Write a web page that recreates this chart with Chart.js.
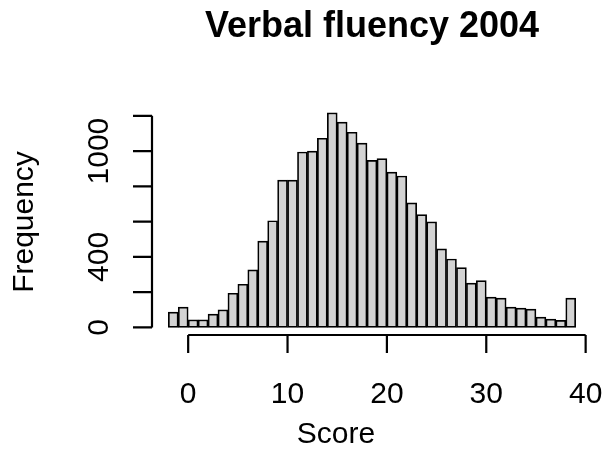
<!DOCTYPE html>
<html>
<head>
<meta charset="utf-8">
<script src="https://cdn.jsdelivr.net/npm/chart.js@4/dist/chart.umd.min.js"></script>
<style>
  html, body { margin: 0; padding: 0; background: #fff; }
  canvas { display: block; }
</style>
</head>
<body>
<canvas id="hist" width="606" height="450"></canvas>
<script>
// histogram bins (left edge of each 1-point bin) and counts
const binStarts = [-2, -1, 0, 1, 2, 3, 4, 5, 6, 7, 8, 9, 10, 11, 12, 13, 14, 15, 16, 17,
    18, 19, 20, 21, 22, 23, 24, 25, 26, 27, 28, 29, 30, 31, 32, 33, 34, 35, 36, 37, 38]
const frequency = [87, 115, 43, 43, 76, 100, 194, 245, 326, 490, 605, 835, 835, 995, 1000, 1073, 1217, 1164, 1107, 1045,
    947, 957, 881, 859, 706, 640, 599, 445, 388, 339, 251, 266, 172, 166, 115, 110, 104, 59, 47, 40, 166]
const xTicks = [0, 10, 20, 30, 40]
const yTicks = [0, 200, 400, 600, 800, 1000, 1200]
const yTickLabels = [0, 400, 1000]

const FONT = '"Liberation Sans", Arial, Helvetica, sans-serif'

// R style detached axes, drawn from the chart's own scales
const rAxes = {
    id: 'rAxes',
    afterDraw(chart) {
        const {ctx, chartArea} = chart
        const x = chart.scales.x
        const y = chart.scales.y
        ctx.save()
        ctx.strokeStyle = '#000'
        ctx.fillStyle = '#000'
        ctx.lineWidth = 2.2
        ctx.font = '30px ' + FONT

        // x axis
        const xb = chartArea.bottom - 1
        ctx.beginPath()
        ctx.moveTo(x.getPixelForValue(xTicks[0]), xb)
        ctx.lineTo(x.getPixelForValue(xTicks[xTicks.length - 1]), xb)
        xTicks.forEach((v) => {
            const px = x.getPixelForValue(v)
            ctx.moveTo(px, xb)
            ctx.lineTo(px, xb + 18)
        })
        ctx.stroke()
        ctx.textAlign = 'center'
        ctx.textBaseline = 'alphabetic'
        xTicks.forEach((v) => {
            ctx.fillText(String(v), x.getPixelForValue(v), 403)
        })
        ctx.fillText('Score', 336, 443)

        // y axis
        const yl = chartArea.left
        ctx.beginPath()
        ctx.moveTo(yl, y.getPixelForValue(yTicks[0]))
        ctx.lineTo(yl, y.getPixelForValue(yTicks[yTicks.length - 1]))
        yTicks.forEach((v) => {
            const py = y.getPixelForValue(v)
            ctx.moveTo(yl, py)
            ctx.lineTo(yl - 19, py)
        })
        ctx.stroke()
        yTickLabels.forEach((v) => {
            ctx.save()
            ctx.translate(108, y.getPixelForValue(v))
            ctx.rotate(-Math.PI / 2)
            ctx.fillText(String(v), 0, 0)
            ctx.restore()
        })
        ctx.save()
        ctx.translate(33, 222)
        ctx.rotate(-Math.PI / 2)
        ctx.fillText('Frequency', 0, 0)
        ctx.restore()

        ctx.restore()
    }
}

const histCanvas = document.querySelector('canvas#hist')
const histChart = new Chart(histCanvas, {
    type: 'bar',
    data: {
        datasets: [{
            label: 'Frequency',
            data: binStarts.map((b, i) => ({x: b + 0.5, y: frequency[i]})),
            backgroundColor: '#d3d3d3',
            borderColor: '#000',
            borderWidth: 1.7,
            borderSkipped: false,
            barPercentage: 1,
            categoryPercentage: 1
        }]
    },
    options: {
        responsive: false,
        animation: false,
        layout: {
            padding: {left: 152, right: 14, top: 0, bottom: 114}
        },
        plugins: {
            legend: {display: false},
            tooltip: {enabled: false},
            title: {
                display: true,
                text: 'Verbal fluency 2004',
                fullSize: false,
                color: '#000',
                font: {family: FONT, size: 36, weight: 'bold', lineHeight: 1.2},
                padding: {top: 5, bottom: 56}
            }
        },
        scales: {
            x: {
                type: 'linear',
                offset: false,
                min: -3.64,
                max: 40.64,
                display: false
            },
            y: {
                type: 'linear',
                min: -48.7,
                max: 1266,
                display: false
            }
        }
    },
    plugins: [rAxes]
})
</script>
</body>
</html>
